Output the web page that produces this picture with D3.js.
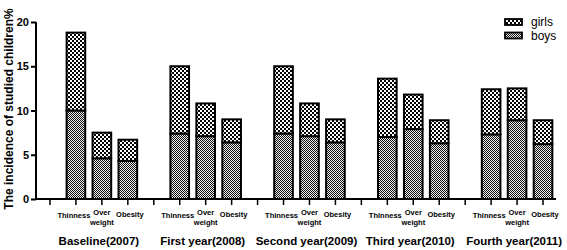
<!DOCTYPE html>
<html>
<head>
<meta charset="utf-8">
<script src="https://cdn.jsdelivr.net/npm/d3@7/dist/d3.min.js"></script>
<style>
  html, body { margin: 0; padding: 0; background: #fff; }
  svg { display: block; font-family: Arial, "Liberation Sans", sans-serif; }
</style>
</head>
<body>
<svg id="chart" width="567" height="250"></svg>
<script>
// ---- data ----
const groups = ["Baseline(2007)", "First year(2008)", "Second year(2009)", "Third year(2010)", "Fourth year(2011)"];
const indicators = ["Thinness", "Over weight", "Obesity"];
const boys = [
  [10.0, 4.6, 4.3],
  [7.4, 7.1, 6.4],
  [7.4, 7.1, 6.4],
  [7.0, 7.9, 6.3],
  [7.3, 8.9, 6.2]
];
// totals (boys + girls)
const totals = [
  [18.8, 7.5, 6.7],
  [15.0, 10.8, 9.0],
  [15.0, 10.8, 9.0],
  [13.6, 11.8, 8.9],
  [12.4, 12.5, 8.9]
];
const yTicks = [0, 5, 10, 15, 20];
const seriesNames = ["girls", "boys"];
const yTitle = "The incidence of studied children%";

// ---- build slots ----
const slots = [];
groups.forEach((g, gi) => {
  slots.push({ key: gi + "-blank", group: gi, label: "" });
  indicators.forEach((ind, ii) => slots.push({ key: gi + "-" + ii, group: gi, ind: ii, label: ind }));
});
const rows = [];
groups.forEach((g, gi) => indicators.forEach((ind, ii) => {
  rows.push({ key: gi + "-" + ii, boys: boys[gi][ii], girls: +(totals[gi][ii] - boys[gi][ii]).toFixed(2) });
}));

const svg = d3.select("#chart");
const defs = svg.append("defs");
const pg = defs.append("pattern").attr("id", "pGirls").attr("width", 4).attr("height", 4).attr("patternUnits", "userSpaceOnUse");
pg.append("rect").attr("width", 4).attr("height", 4).attr("fill", "#fff");
pg.append("rect").attr("width", 2).attr("height", 2).attr("fill", "#000");
pg.append("rect").attr("x", 2).attr("y", 2).attr("width", 2).attr("height", 2).attr("fill", "#000");
const pb = defs.append("pattern").attr("id", "pBoys").attr("width", 2).attr("height", 2).attr("patternUnits", "userSpaceOnUse");
pb.append("rect").attr("width", 2).attr("height", 2).attr("fill", "#eee");
pb.append("rect").attr("width", 1).attr("height", 1).attr("fill", "#111");
pb.append("rect").attr("x", 1).attr("y", 1).attr("width", 1).attr("height", 1).attr("fill", "#111");

const x = d3.scaleBand().domain(slots.map(s => s.key)).range([37, 556]).paddingInner(0.32).paddingOuter(0.16);
const y = d3.scaleLinear().domain([0, 20]).range([199, 22]);

const stack = d3.stack().keys(["boys", "girls"]);
const stacked = stack(rows);
const fills = { boys: "url(#pBoys)", girls: "url(#pGirls)" };
const bw = x.bandwidth() + 1;
stacked.forEach(layer => {
  svg.append("g").selectAll("rect").data(layer).join("rect")
    .attr("x", d => x(d.data.key) + x.bandwidth() / 2 - bw / 2)
    .attr("width", bw)
    .attr("y", d => y(d[1]))
    .attr("height", d => y(d[0]) - y(d[1]))
    .attr("fill", fills[layer.key])
    .attr("stroke", "#000")
    .attr("stroke-width", 2);
});

// y axis
const yAxis = svg.append("g").attr("transform", "translate(36,0)")
  .call(d3.axisLeft(y).tickValues(yTicks).tickSize(5).tickPadding(2));
yAxis.select(".domain").attr("stroke-width", 2).attr("d", "M0," + y(20) + "V" + (y(0) + 1));
yAxis.selectAll(".tick line").attr("stroke-width", 2);
yAxis.selectAll("text").attr("font-size", 11).attr("font-weight", "bold").attr("font-family", "Arial, 'Liberation Sans', sans-serif").attr("fill", "#000");

// x axis
const xAxis = svg.append("g").attr("transform", "translate(0,199)")
  .call(d3.axisBottom(x).tickSize(6).tickFormat(""));
xAxis.select(".domain").attr("stroke-width", 2).attr("d", "M35,0H556");
xAxis.selectAll(".tick line").attr("stroke-width", 1.5);

// x tick labels
slots.filter(s => s.label).forEach(s => {
  const cx = x(s.key) + x.bandwidth() / 2;
  const t = svg.append("text").attr("text-anchor", "middle")
    .attr("font-size", 7.5).attr("font-weight", "bold").attr("fill", "#000");
  if (s.label === "Over weight") {
    t.append("tspan").attr("x", cx).attr("y", 215).text("Over");
    t.append("tspan").attr("x", cx).attr("y", 225).text("weight");
  } else {
    t.attr("x", cx + (s.ind === 0 ? -2 : 2)).attr("y", s.ind === 0 ? 218 : 217).text(s.label);
  }
});

// group labels
groups.forEach((g, gi) => {
  const c = x(gi + "-1") + x.bandwidth() / 2;
  svg.append("text").attr("x", c - 3).attr("y", 245).attr("text-anchor", "middle")
    .attr("font-size", 11.5).attr("font-weight", "bold").attr("fill", "#000").text(g);
});

// y title
svg.append("text").attr("transform", "translate(13,109) rotate(-90)").attr("text-anchor", "middle")
  .attr("font-size", 12).attr("font-weight", "bold").attr("fill", "#000").text(yTitle);

// legend
const legend = svg.append("g");
seriesNames.forEach((n, i) => {
  const ly = 19 + i * 13.5;
  legend.append("rect").attr("x", 505).attr("y", ly).attr("width", 17).attr("height", 6)
    .attr("fill", n === "girls" ? "url(#pGirls)" : "url(#pBoys)").attr("stroke", "#000").attr("stroke-width", 1.8);
  legend.append("text").attr("x", 531).attr("y", ly + 7).attr("font-size", 12).attr("fill", "#000")
    .attr("font-family", "'Liberation Sans', Arial, sans-serif").text(n);
});
</script>
</body>
</html>
